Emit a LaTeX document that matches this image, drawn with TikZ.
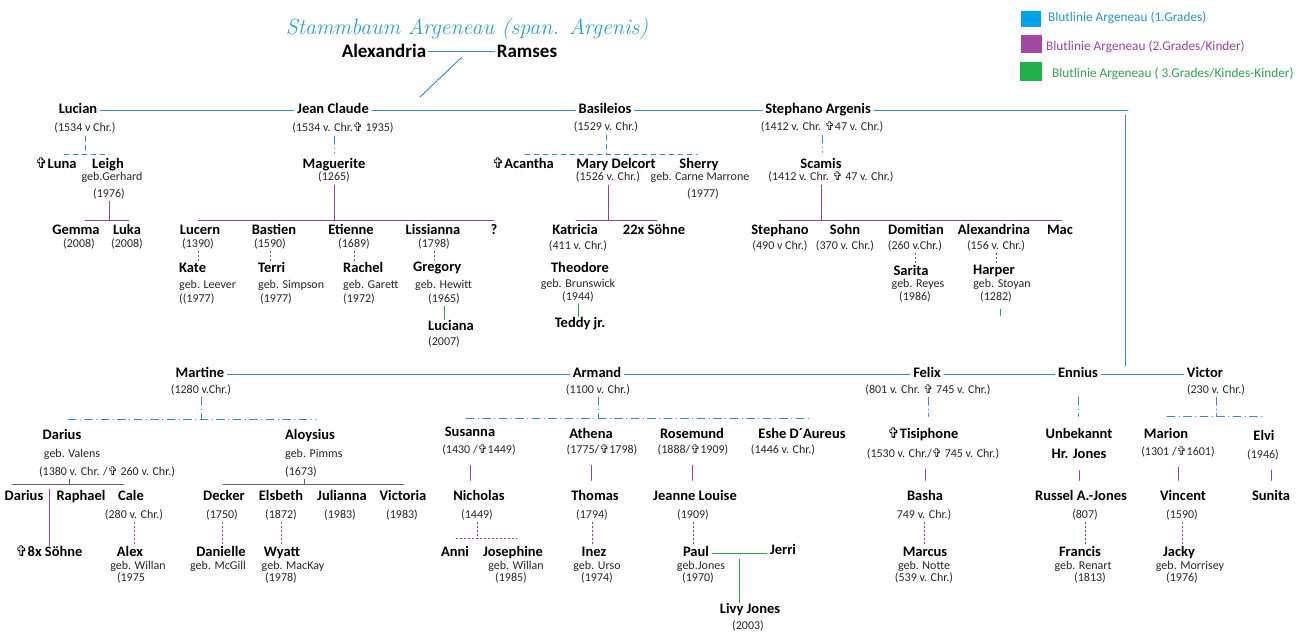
\documentclass[tikz,border=0pt]{standalone}
\usepackage{fontspec}
\usepackage{tikz}
\usetikzlibrary{calc}
\newfontfamily\carlito{Carlito}
\newfontfamily\kreuzfont{DejaVu Sans}
\newcommand{\kreuz}{{\kreuzfont\mdseries ✞}}
\newcommand{\namefont}{\carlito\fontsize{14.5}{16}\selectfont\bfseries}
\newcommand{\datumfont}{\carlito\fontsize{12}{14}\selectfont}
\newcommand{\grossfont}{\carlito\fontsize{19}{22}\selectfont\bfseries}
\newcommand{\legendfont}{\carlito\fontsize{13.3}{15}\selectfont}
\definecolor{linieblau}{RGB}{55,138,185}
\definecolor{liniepurpur}{RGB}{145,70,155}
\definecolor{liniegruen}{RGB}{40,165,80}
\definecolor{titelblau}{RGB}{50,160,200}
\definecolor{legblau}{RGB}{0,162,232}
\definecolor{legpurpur}{RGB}{163,73,164}
\definecolor{leggruen}{RGB}{34,177,76}
\definecolor{legtextblau}{RGB}{40,150,205}
\definecolor{legtextpurpur}{RGB}{150,70,160}
\definecolor{legtextgruen}{RGB}{50,160,80}
\tikzset{
  nm/.style={font=\namefont, inner xsep=3pt, inner ysep=1pt, text height=10pt, text depth=3pt},
  gross/.style={font=\grossfont, inner xsep=2pt, inner ysep=1pt},
  dt/.style={font=\datumfont, text=black!85, inner xsep=2pt, inner ysep=1.5pt, text height=8.5pt, text depth=2.5pt},
  legtext/.style={font=\legendfont, anchor=west, inner sep=0pt},
  legbox/.style={inner sep=0pt},
  bl/.style={draw=linieblau, line width=0.9pt},
  bldash/.style={bl, dash pattern=on 5pt off 4pt},
  bldot/.style={bl, dash pattern=on 8pt off 4pt on 0.5pt off 4pt},
  pu/.style={draw=liniepurpur, line width=0.9pt},
  pudot/.style={draw=liniepurpur, line width=0.9pt, dash pattern=on 1.5pt off 2.5pt},
  gr/.style={draw=liniegruen, line width=0.9pt},
  graubar/.style={draw=black!60, line width=0.9pt},
  lang/.style={shorten <=8pt, shorten >=9pt}
}
\begin{document}
\begin{tikzpicture}[x=1pt,y=-1pt,line cap=round,line join=round]
\fill[white] (0,0) rectangle (1308,639);
\useasboundingbox (0,0) rectangle (1308,639);

\node[font=\fontsize{22}{26}\selectfont\itshape, text=titelblau, inner sep=0pt] (titel) at (467,29) {Stammbaum Argeneau (span. Argenis)};
\node[gross] (alexandria) at (384,51) {Alexandria};
\node[gross] (ramses) at (527,51) {Ramses};
\coordinate (paar) at (462,57);
\coordinate (stamm) at (420,97);
\draw[bl] (alexandria) -- (ramses);
\draw[bl] (paar) -- (stamm);

\node[legbox, fill=legblau, minimum width=20pt, minimum height=16pt] (legB) at (1031,19) {};
\node[legtext, text=legtextblau] (legBt) at (1048,18) {Blutlinie Argeneau (1.Grades)};
\node[legbox, fill=legpurpur, minimum width=21pt, minimum height=18pt] (legP) at (1031,44) {};
\node[legtext, text=legtextpurpur] (legPt) at (1046,47) {Blutlinie Argeneau (2.Grades/Kinder)};
\node[legbox, fill=leggruen, minimum width=22pt, minimum height=19pt] (legG) at (1031,72) {};
\node[legtext, text=legtextgruen] (legGt) at (1052,74) {Blutlinie Argeneau ( 3.Grades/Kindes-Kinder)};

\node[nm] (lucian) at (78,110) {Lucian};
\node[nm] (jeanclaude) at (333,110) {Jean Claude};
\node[nm] (basileios) at (605,110) {Basileios};
\node[nm] (stephano) at (818,110) {Stephano Argenis};
\node[dt] (lucianD) at (85,129) {(1534 v Chr.)};
\node[dt] (jeanclaudeD) at (343,129) {(1534 v. Chr.\kreuz\ 1935)};
\node[dt] (basileiosD) at (606,128) {(1529 v. Chr.)};
\node[dt] (stephanoD) at (822,128) {(1412 v. Chr. \kreuz47 v. Chr.)};
\coordinate (ecke) at (1128,110);
\coordinate (eckoben) at (1125,115);
\coordinate (eckunten) at (1125,366);
\draw[bl] (lucian) -- (jeanclaude);
\draw[bl] (jeanclaude) -- (basileios);
\draw[bl] (basileios) -- (stephano);
\draw[bl] (stephano) -- (ecke);
\draw[bl] (eckoben) -- (eckunten);

\node[nm] (luna) at (56,165) {\kreuz Luna};
\node[nm] (leigh) at (108,165) {Leigh};
\node[dt] (leighG) at (112,178) {geb.Gerhard};
\node[dt] (leighD) at (109,194) {(1976)};
\node[nm] (maguerite) at (334,165) {Maguerite};
\node[dt] (magueriteD) at (334,178) {(1265)};
\node[nm] (acantha) at (523,165) {\kreuz Acantha};
\node[nm] (mary) at (616,165) {Mary Delcort};
\node[dt] (maryD) at (608,178) {(1526 v. Chr.)};
\node[nm] (sherry) at (699,165) {Sherry};
\node[dt] (sherryG) at (700,178) {geb. Carne Marrone};
\node[dt] (sherryD) at (703,194) {(1977)};
\node[nm] (scamis) at (821,165) {Scamis};
\node[dt] (scamisD) at (831,178) {(1412 v. Chr. \kreuz\ 47 v. Chr.)};
\coordinate (lucbarL) at (64,154);
\coordinate (lucbarR) at (109,154);
\coordinate (basbarL) at (525,154);
\coordinate (basbarR) at (697,154);
\draw[bldash] (lucianD.south) -- (lucianD.south |- lucbarL);
\draw[bldash] (lucbarL) -- (lucbarR);
\draw[bldot, shorten >=4pt] (maguerite.north |- jeanclaudeD.south) -- (maguerite.north);
\draw[bldash] (basileiosD.south) -- (basileiosD.south |- basbarL);
\draw[bldash] (basbarL) -- (basbarR);
\draw[bldot, shorten >=5pt] (stephanoD.south) -- (stephanoD.south |- scamis.north);

\node[nm] (gemma) at (76,231) {Gemma};
\node[dt] (gemmaD) at (79,244) {(2008)};
\node[nm] (luka) at (127,231) {Luka};
\node[dt] (lukaD) at (127,244) {(2008)};
\node[nm] (lucern) at (200,231) {Lucern};
\node[dt] (lucernD) at (198,244) {(1390)};
\node[nm] (bastien) at (274,231) {Bastien};
\node[dt] (bastienD) at (270,244) {(1590)};
\node[nm] (etienne) at (351,231) {Etienne};
\node[dt] (etienneD) at (354,244) {(1689)};
\node[nm] (lissianna) at (433,231) {Lissianna};
\node[dt] (lissiannaD) at (434,244) {(1798)};
\node[nm] (frage) at (494,231) {?};
\node[nm] (katricia) at (575,231) {Katricia};
\node[dt] (katriciaD) at (578,246) {(411 v. Chr.)};
\node[nm] (soehne) at (654,231) {22x Söhne};
\node[nm] (stephanoII) at (780,231) {Stephano};
\node[dt] (stephanoIID) at (780,246) {(490 v Chr.)};
\node[nm] (sohn) at (845,231) {Sohn};
\node[dt] (sohnD) at (845,246) {(370 v. Chr.)};
\node[nm] (domitian) at (916,231) {Domitian};
\node[dt] (domitianD) at (915,246) {(260 v.Chr.)};
\node[nm] (alexandrina) at (994,231) {Alexandrina};
\node[dt] (alexandrinaD) at (996,246) {(156 v. Chr.)};
\node[nm] (mac) at (1060,231) {Mac};
\coordinate (leibarL) at (85,220);
\coordinate (leibarR) at (129,220);
\coordinate (magbarL) at (198,220);
\coordinate (magbarR) at (494,220);
\coordinate (marbarL) at (576,220);
\coordinate (marbarR) at (657,220);
\coordinate (scabarL) at (779,220);
\coordinate (scabarR) at (1062,220);
\draw[pu] (leighD.south) -- (leighD.south |- leibarL);
\draw[pu] (leibarL) -- (leibarR);
\draw[pu] (magueriteD.south) -- (magueriteD.south |- magbarL);
\draw[pu] (magbarL) -- (magbarR);
\draw[pu] (maryD.south) -- (maryD.south |- marbarL);
\draw[pu] (marbarL) -- (marbarR);
\draw[pu] (scamis.south |- scamisD.south) -- (scamis.south |- scabarL);
\draw[pu] (scabarL) -- (scabarR);

\node[nm, anchor=west] (kate) at (176,269) {Kate};
\node[dt, anchor=west] (kateG) at (177,285) {geb. Leever};
\node[dt, anchor=west] (kateD) at (177,299) {((1977)};
\node[nm, anchor=west] (terri) at (255,269) {Terri};
\node[dt, anchor=west] (terriG) at (256,285) {geb. Simpson};
\node[dt, anchor=west] (terriD) at (258,299) {(1977)};
\node[nm, anchor=west] (rachel) at (340,269) {Rachel};
\node[dt, anchor=west] (rachelG) at (341,285) {geb. Garett};
\node[dt, anchor=west] (rachelD) at (341,299) {(1972)};
\node[nm, anchor=west] (gregory) at (410,268) {Gregory};
\node[dt, anchor=west] (gregoryG) at (413,285) {geb. Hewitt};
\node[dt, anchor=west] (gregoryD) at (426,299) {(1965)};
\node[nm, anchor=west] (luciana) at (425,327) {Luciana};
\node[dt, anchor=west] (lucianaD) at (426,342) {(2007)};
\node[nm] (theodore) at (580,269) {Theodore};
\node[dt] (theodoreG) at (578,284) {geb. Brunswick};
\node[dt] (theodoreD) at (578,297) {(1944)};
\node[nm] (teddy) at (580,324) {Teddy jr.};
\node[nm] (sarita) at (911,272) {Sarita};
\node[dt] (saritaG) at (918,284) {geb. Reyes};
\node[dt] (saritaD) at (915,297) {(1986)};
\node[nm] (harper) at (994,271) {Harper};
\node[dt] (harperG) at (1002,284) {geb. Stoyan};
\node[dt] (harperD) at (996,297) {(1282)};
\coordinate (harperEnde) at (1000,316);
\draw[pudot] (lucernD.south) -- (lucernD.south |- kate.north);
\draw[pudot] (bastienD.south) -- (bastienD.south |- terri.north);
\draw[pudot] (etienneD.south) -- (etienneD.south |- rachel.north);
\draw[pudot] (lissiannaD.south) -- (lissiannaD.south |- gregory.north);
\draw[gr] (gregoryD.south) -- (gregoryD.south |- luciana.north);
\draw[gr] (theodoreD.south) -- (theodoreD.south |- teddy.north);
\draw[pudot] (domitianD.south) -- (domitianD.south |- sarita.north);
\draw[pudot] (alexandrinaD.south) -- (alexandrinaD.south |- harper.north);
\draw[gr, shorten <=5pt] (harperEnde |- harperD.south) -- (harperEnde);

\node[nm] (martine) at (200,374) {Martine};
\node[dt] (martineD) at (201,390) {(1280 v.Chr.)};
\node[nm] (armand) at (597,374) {Armand};
\node[dt] (armandD) at (598,390) {(1100 v. Chr.)};
\node[nm] (felix) at (927,374) {Felix};
\node[dt] (felixD) at (928,390) {(801 v. Chr. \kreuz\ 745 v. Chr.)};
\node[nm] (ennius) at (1078,374) {Ennius};
\node[nm] (victor) at (1205,374) {Victor};
\node[dt] (victorD) at (1216,390) {(230 v. Chr.)};
\draw[bl] (martine) -- (armand);
\draw[bl] (armand) -- (felix);
\draw[bl] (felix) -- (ennius);
\draw[bl] (ennius) -- (victor);
\coordinate (martbarL) at (68,419);
\coordinate (martbarR) at (316,419);
\coordinate (armbarL) at (466,418);
\coordinate (armbarR) at (812,418);
\coordinate (vicbarL) at (1167,416);
\coordinate (vicbarR) at (1265,416);

\node[nm] (darius) at (62,436) {Darius};
\node[dt] (dariusG) at (72,454) {geb. Valens};
\node[dt] (dariusD) at (107,472) {(1380 v. Chr. /\kreuz\ 260 v. Chr.)};
\node[nm, anchor=west] (aloysius) at (282,436) {Aloysius};
\node[dt, anchor=west] (aloysiusG) at (283,454) {geb. Pimms};
\node[dt, anchor=west] (aloysiusD) at (283,472) {(1673)};
\node[nm] (susanna) at (470,433) {Susanna};
\node[dt] (susannaD) at (479,450) {(1430 /\kreuz1449)};
\node[nm] (athena) at (591,435) {Athena};
\node[dt] (athenaD) at (602,450) {(1775/\kreuz1798)};
\node[nm] (rosemund) at (692,435) {Rosemund};
\node[dt] (rosemundD) at (693,450) {(1888/\kreuz1909)};
\node[nm] (eshe) at (802,435) {Eshe D´Aureus};
\node[dt] (esheD) at (783,450) {(1446 v. Chr.)};
\node[nm] (tisiphone) at (923,435) {\kreuz Tisiphone};
\node[dt] (tisiphoneD) at (933,454) {(1530 v. Chr./\kreuz\ 745 v. Chr.)};
\node[nm] (unbekannt) at (1079,435) {Unbekannt};
\node[nm] (hrjones) at (1079,455) {Hr. Jones};
\node[nm] (marion) at (1166,435) {Marion};
\node[dt] (marionD) at (1178,452) {(1301 /\kreuz1601)};
\node[nm] (elvi) at (1264,437) {Elvi};
\node[dt] (elviD) at (1263,455) {(1946)};
\draw[bldot] (martineD.south) -- (martineD.south |- martbarL);
\draw[bldot] (martbarL) -- (martbarR);
\draw[bldot] (armandD.south) -- (armandD.south |- armbarL);
\draw[bldot] (armbarL) -- (armbarR);
\draw[bldot, shorten >=11pt] (felixD.south) -- (felixD.south |- tisiphone.north);
\draw[bldot, shorten >=11pt] (ennius.south |- felixD.south) -- (ennius.south |- unbekannt.north);
\draw[bldot] (victorD.south) -- (victorD.south |- vicbarL);
\draw[bldot] (vicbarL) -- (vicbarR);

\node[nm] (dariusII) at (24,497) {Darius};
\node[nm] (raphael) at (81,497) {Raphael};
\node[nm] (cale) at (131,497) {Cale};
\node[dt] (caleD) at (134,515) {(280 v. Chr.)};
\node[nm] (decker) at (224,497) {Decker};
\node[dt] (deckerD) at (222,515) {(1750)};
\node[nm] (elsbeth) at (281,497) {Elsbeth};
\node[dt] (elsbethD) at (281,515) {(1872)};
\node[nm] (julianna) at (342,497) {Julianna};
\node[dt] (juliannaD) at (340,515) {(1983)};
\node[nm] (victoria) at (403,497) {Victoria};
\node[dt] (victoriaD) at (402,515) {(1983)};
\node[nm] (nicholas) at (479,497) {Nicholas};
\node[dt] (nicholasD) at (477,515) {(1449)};
\node[nm] (thomas) at (595,497) {Thomas};
\node[dt] (thomasD) at (592,515) {(1794)};
\node[nm] (jeanne) at (695,497) {Jeanne Louise};
\node[dt] (jeanneD) at (693,515) {(1909)};
\node[nm] (basha) at (925,497) {Basha};
\node[dt] (bashaD) at (924,515) {749 v. Chr.)};
\node[nm] (russel) at (1081,497) {Russel A.-Jones};
\node[dt] (russelD) at (1085,515) {(807)};
\node[nm] (vincent) at (1183,497) {Vincent};
\node[dt] (vincentD) at (1182,515) {(1590)};
\node[nm] (sunita) at (1271,497) {Sunita};
\coordinate (darbarL) at (12,484);
\coordinate (darbarM) at (69,484);
\coordinate (darbarR) at (124,484);
\coordinate (alobarL) at (223,484);
\coordinate (alobarM) at (304,484);
\coordinate (alobarR) at (404,484);
\draw[graubar] (darbarL) -- (darbarR);
\draw[graubar] (darbarM |- dariusD.south) -- (darbarM);
\draw[graubar] (alobarL) -- (alobarR);
\draw[graubar] (alobarM |- aloysiusD.south) -- (alobarM);
\draw[pu, lang] (susanna.south |- susannaD.south) -- (susanna.south |- nicholas.north);
\draw[pu, lang] (athena.south |- athenaD.south) -- (athena.south |- thomas.north);
\draw[pu, lang] (rosemund.south |- rosemundD.south) -- (rosemund.south |- jeanne.north);
\draw[pu, lang] (basha.north |- tisiphoneD.south) -- (basha.north);
\draw[pu, lang] (hrjones.south) -- (hrjones.south |- russel.north);
\draw[pu, lang] (marionD.south) -- (marionD.south |- vincent.north);
\draw[pu, lang] (sunita.north |- elviD.south) -- (sunita.north);

\node[nm] (achtsoehne) at (49,553) {\kreuz8x Söhne};
\node[nm] (alex) at (130,553) {Alex};
\node[dt] (alexG) at (138,566) {geb. Willan};
\node[dt] (alexD) at (131,578) {(1975};
\node[nm] (danielle) at (221,553) {Danielle};
\node[dt] (danielleG) at (218,566) {geb. McGill};
\node[nm] (wyatt) at (282,553) {Wyatt};
\node[dt] (wyattG) at (293,566) {geb. MacKay};
\node[dt] (wyattD) at (281,578) {(1978)};
\node[nm] (anni) at (455,553) {Anni};
\node[nm] (josephine) at (513,553) {Josephine};
\node[dt] (josephineG) at (516,566) {geb. Willan};
\node[dt] (josephineD) at (511,578) {(1985)};
\node[nm] (inez) at (594,553) {Inez};
\node[dt] (inezG) at (597,566) {geb. Urso};
\node[dt] (inezD) at (597,578) {(1974)};
\node[nm] (paul) at (696,553) {Paul};
\node[dt] (paulG) at (701,566) {geb.Jones};
\node[dt] (paulD) at (698,578) {(1970)};
\node[nm] (jerri) at (783,551) {Jerri};
\node[nm] (livy) at (750,610) {Livy Jones};
\node[dt] (livyD) at (748,626) {(2003)};
\node[nm] (marcus) at (925,553) {Marcus};
\node[dt] (marcusG) at (924,566) {geb. Notte};
\node[dt] (marcusD) at (924,578) {(539 v. Chr.)};
\node[nm] (francis) at (1080,553) {Francis};
\node[dt] (francisG) at (1083,566) {geb. Renart};
\node[dt] (francisD) at (1090,578) {(1813)};
\node[nm] (jacky) at (1179,553) {Jacky};
\node[dt] (jackyG) at (1190,566) {geb. Morrisey};
\node[dt] (jackyD) at (1182,578) {(1976)};
\coordinate (nicbarL) at (456,538);
\coordinate (nicbarR) at (517,538);
\coordinate (paarPJ) at ($(paul.east)!0.5!(jerri.west |- paul.east)$);
\draw[pu] (achtsoehne.north |- dariusII.north) -- (achtsoehne.north);
\draw[pudot] (caleD.south) -- (caleD.south |- alex.north);
\draw[pudot] (deckerD.south) -- (deckerD.south |- danielle.north);
\draw[pudot] (elsbethD.south) -- (elsbethD.south |- wyatt.north);
\draw[pudot] (nicholasD.south) -- (nicholasD.south |- nicbarL);
\draw[pudot] (nicbarL) -- (nicbarR);
\draw[pudot] (thomasD.south) -- (thomasD.south |- inez.north);
\draw[pudot] (jeanneD.south) -- (jeanneD.south |- paul.north);
\draw[gr] (paul.east) -- (paul.east -| jerri.west);
\draw[gr, shorten <=6pt] (paarPJ) -- (paarPJ |- livy.north);
\draw[pudot] (bashaD.south) -- (bashaD.south |- marcus.north);
\draw[pudot] (russelD.south) -- (russelD.south |- francis.north);
\draw[pudot] (vincentD.south) -- (vincentD.south |- jacky.north);
\end{tikzpicture}
\end{document}
